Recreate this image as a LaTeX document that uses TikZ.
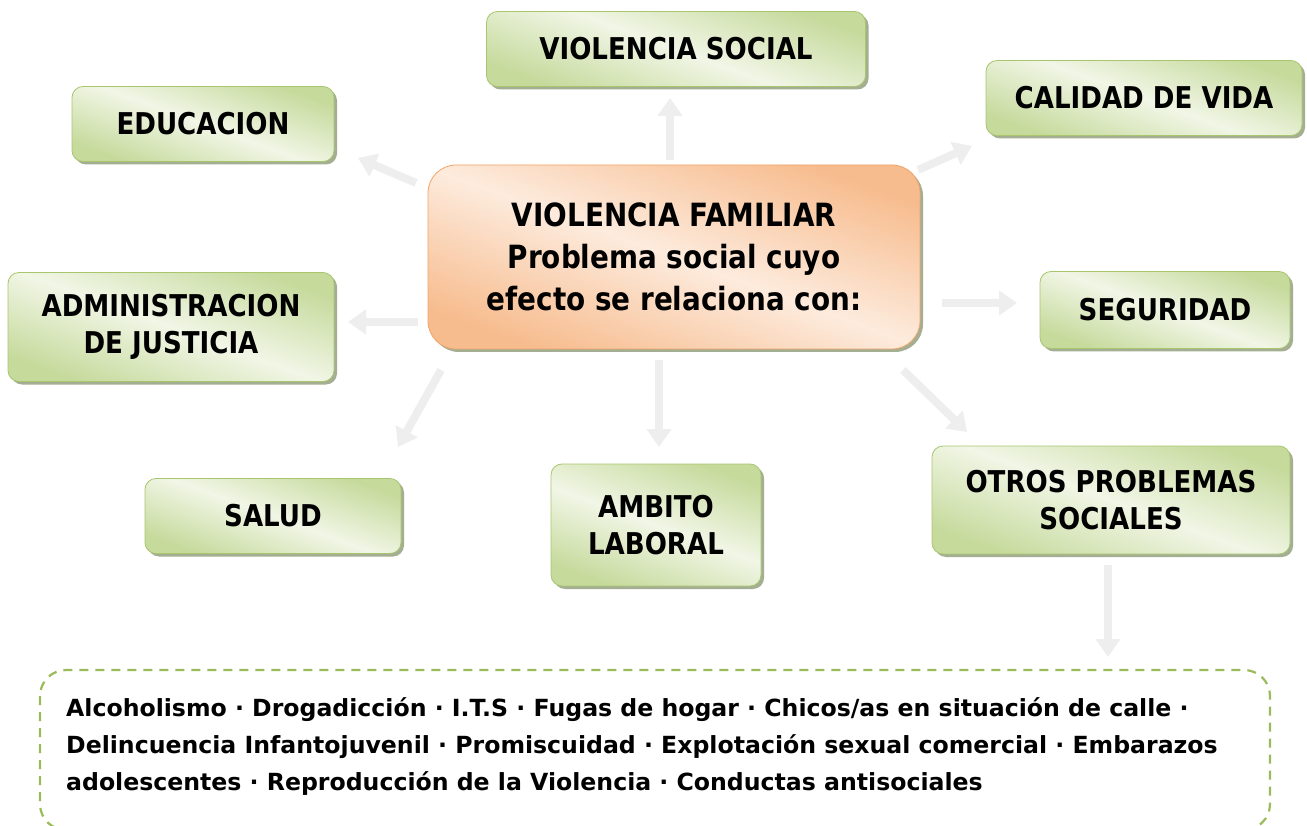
\documentclass[tikz,border=0pt]{standalone}
\usepackage{fontspec}
\setmainfont{DejaVu Sans}[FakeStretch=0.87]
\newfontfamily\listfont{DejaVu Sans}
\usetikzlibrary{arrows.meta,shadows}
\definecolor{gbord}{HTML}{A9C66F}
\definecolor{gdark}{HTML}{C6DA9C}
\definecolor{glight}{HTML}{F1F6E6}
\definecolor{gshadow}{HTML}{8E9A78}
\definecolor{obord}{HTML}{F0A468}
\definecolor{odark}{HTML}{F7BC8E}
\definecolor{olight}{HTML}{FDEBDD}
\definecolor{arr}{HTML}{EEEEEE}
\definecolor{dashg}{HTML}{9BBB59}
\tikzset{
  gbox/.style={draw=gbord, line width=0.8pt, rounded corners=11pt, inner sep=0pt,
    left color=gdark, right color=gdark, middle color=glight, shading angle=-20,
    drop shadow={shadow xshift=3pt, shadow yshift=-3pt, fill=gshadow, opacity=0.8},
    font=\bfseries\fontsize{30}{37}\selectfont, align=center},
  obox/.style={draw=obord, line width=0.8pt, rounded corners=28pt, inner sep=0pt,
    left color=odark, right color=odark, middle color=olight, shading angle=-20,
    drop shadow={shadow xshift=3pt, shadow yshift=-3pt, fill=gshadow, opacity=0.8},
    font=\bfseries\fontsize{32}{42}\selectfont, align=center},
  garrow/.style={draw=arr, line width=8pt, -{Triangle[width=24pt,length=18pt]}},
}
\begin{document}
\begin{tikzpicture}[x=1pt,y=-1pt]
\useasboundingbox (0,0) rectangle (1307,826);
\fill[white] (0,0) rectangle (1307,826);
% boxes
\node[gbox, minimum width=379pt, minimum height=75pt] (vsoc) at (676,49) {VIOLENCIA SOCIAL};
\node[gbox, minimum width=262pt, minimum height=75pt] (edu) at (203,124) {EDUCACION};
\node[gbox, minimum width=316pt, minimum height=75pt] (cal) at (1144,98) {CALIDAD DE VIDA};
\node[obox, minimum width=492pt, minimum height=184pt] (fam) at (674,257) {VIOLENCIA FAMILIAR\\Problema social cuyo\\efecto se relaciona con:};
\node[gbox, minimum width=326pt, minimum height=109pt] (adm) at (171,327) {ADMINISTRACION\\DE JUSTICIA};
\node[gbox, minimum width=250pt, minimum height=77pt] (seg) at (1165,310) {SEGURIDAD};
\node[gbox, minimum width=256pt, minimum height=75pt] (sal) at (273,516) {SALUD};
\node[gbox, minimum width=210pt, minimum height=122pt] (amb) at (656,525) {AMBITO\\LABORAL};
\node[gbox, minimum width=358pt, minimum height=108pt] (otr) at (1111,500) {OTROS PROBLEMAS\\SOCIALES};
% dashed box
\draw[dashg, line width=2.2pt, dash pattern=on 9pt off 7pt, rounded corners=26pt] (40,670) rectangle (1270,830);
\node[anchor=north west, inner sep=0pt, align=left, font=\listfont\bfseries\fontsize{23.6}{37}\selectfont] (lst) at (66,697)
{Alcoholismo · Drogadicción · I.T.S · Fugas de hogar · Chicos/as en situación de calle ·\\
Delincuencia Infantojuvenil · Promiscuidad · Explotación sexual comercial · Embarazos\\
adolescentes · Reproducción de la Violencia · Conductas antisociales};
% arrow coordinates
\coordinate (a1s) at (670,160); \coordinate (a1e) at (670,98);
\coordinate (a2s) at (416,183); \coordinate (a2e) at (358,158);
\coordinate (a3s) at (918,170); \coordinate (a3e) at (972,146);
\coordinate (a4s) at (418,322); \coordinate (a4e) at (348,322);
\coordinate (a5s) at (942,303); \coordinate (a5e) at (1017,303);
\coordinate (a6s) at (441,370); \coordinate (a6e) at (398,447);
\coordinate (a7s) at (659,360); \coordinate (a7e) at (659,447);
\coordinate (a8s) at (903,370); \coordinate (a8e) at (967,432);
\coordinate (a9s) at (1108,565); \coordinate (a9e) at (1108,657);
\foreach \i in {1,...,9} {\draw[garrow] (a\i s) -- (a\i e);}
\end{tikzpicture}
\end{document}
